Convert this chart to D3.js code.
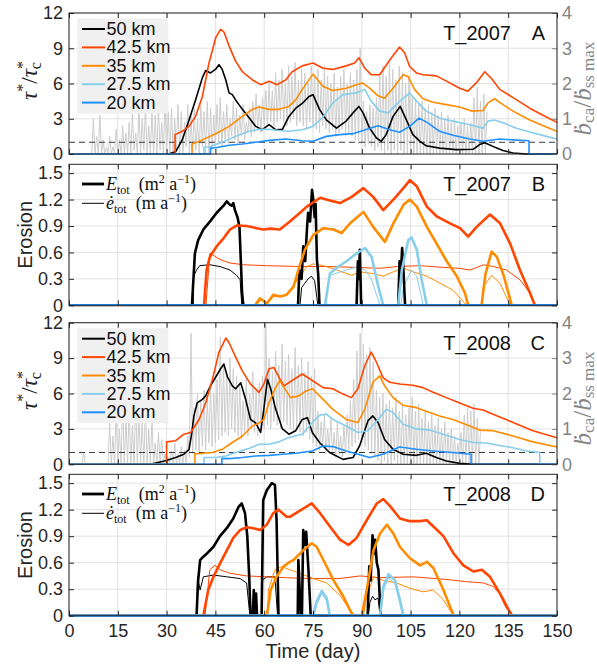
<!DOCTYPE html>
<html>
<head>
<meta charset="utf-8">
<script src="https://cdn.jsdelivr.net/npm/d3@7"></script>
<style>
body { margin: 0; background: #fff; }
</style>
</head>
<body>
<div id="box"></div>
<script>
// ---- data ----
const distances = ['50 km', '42.5 km', '35 km', '27.5 km', '20 km'];
const colors = ['#000000', '#FF4500', '#FF8C00', '#87CEEB', '#1E90FF'];
const dayTicks = [0, 15, 30, 45, 60, 75, 90, 105, 120, 135, 150];
const tauTicks = [0, 3, 6, 9, 12];
const ratioTicks = [0, 1, 2, 3, 4];
const eroTicks = [0, 0.3, 0.6, 0.9, 1.2, 1.5];
const threshold = [1];

// panel A, T_2007, tau*/tau*c  [day, value]
const a50 = [[0,0],[30,0],[31,0.05],[32.8,0.2],[34.8,1.2],[36.9,2.9],[38.9,4.6],[41,6.5],[42,7.1],[43.5,6.9],[45,7.2],[46.1,7.6],[47.1,7.2],[48.2,6.3],[49.2,5.2],[50.2,5.05],[51.2,4.6],[53.3,3.8],[55.3,3.1],[57.4,2.35],[59.4,2.07],[61.5,2.5],[63.5,2.07],[65.6,2.1],[67.6,3.2],[69.7,3.9],[71.7,4.3],[73.8,4.9],[75,5.05],[77,3.8],[79.1,2.9],[82.2,2.2],[85.2,2.8],[87.3,3.5],[89.1,4.05],[90.4,3.5],[92.4,2.2],[94.5,1.36],[96,1.08],[97.5,1.65],[99.6,3.2],[101.8,4.05],[103.7,2.9],[105.7,1.65],[107.8,1.1],[109.8,0.7],[113.9,0.5],[119,0.37],[124.2,0.4],[126.2,0.8],[127.8,0.95],[130.3,0.65],[133.4,0.3],[136.5,0.08],[140.6,0],[150,0]];
const a425 = [[0,0],[32.6,0],[32.6,1.65],[34.8,1.93],[36.9,2.35],[38.9,3.2],[41,4.9],[43,7.7],[45.1,9.9],[46.6,10.6],[47.6,10.4],[49.2,9.2],[51.2,7.9],[53.3,7.0],[56.4,6.3],[58.9,5.9],[61.5,6.2],[64,5.9],[66.6,6.3],[68.6,7.0],[71.7,7.5],[75,7.75],[78.1,7.3],[81.1,7.2],[85.2,7.5],[87.8,7.75],[89.1,8.2],[90.9,7.3],[92.9,6.75],[95.5,6.75],[98.6,8.0],[101.6,9.1],[103.2,8.6],[104.7,7.45],[106.8,6.9],[108.8,6.75],[112.9,6.65],[116,6.2],[120.1,5.6],[122.6,5.35],[125.2,6.05],[127.8,7.0],[129.8,6.45],[132.4,5.5],[136.5,4.8],[141.6,3.9],[146.7,3.15],[150,2.7]];
const a35 = [[0,0],[37.8,0],[37.8,0.85],[41,1.2],[45.1,1.73],[49.2,2.35],[53.3,3.2],[56.4,3.8],[58.4,4.0],[61.5,3.8],[64.5,3.8],[67.6,4.05],[69.7,4.6],[71.7,5.5],[75,6.8],[78.1,5.75],[81.1,5.4],[85.2,5.6],[88.3,5.9],[90.2,6.05],[92.4,5.6],[95,4.95],[97,4.75],[99.6,5.6],[102.7,6.75],[104.2,6.6],[106.2,5.5],[108.8,4.7],[111.9,4.4],[116,4.2],[120.1,4.0],[123.7,3.65],[127.3,3.7],[128.8,4.35],[130.8,4.7],[133.4,4.2],[136.5,3.65],[141.6,2.9],[146.7,2.3],[150,1.93]];
const a275 = [[0,0],[41.5,0],[41.5,0.57],[43,0.6],[45.1,0.8],[48.2,1.13],[51.2,1.5],[55.3,1.93],[58.4,2.1],[61.5,2.1],[64.5,2.0],[67.6,1.93],[71.7,2.07],[75,2.35],[78.1,3.15],[81.1,4.35],[84.2,5.05],[88.3,5.2],[90.9,5.5],[92.9,4.5],[95.5,3.65],[98.1,3.5],[101.1,4.35],[104.7,5.2],[106.8,4.5],[109.8,3.65],[113.9,3.05],[118,2.8],[122.1,2.55],[127.3,2.2],[128.8,2.8],[130.8,2.9],[133.4,2.65],[137.5,2.2],[142.6,1.8],[146.7,1.5],[150,1.28]];
const a20 = [[0,0],[43.5,0],[43.5,0.5],[45.1,0.53],[49.2,0.74],[53.3,0.85],[57.4,1.0],[61.5,1.16],[66.6,1.28],[71.7,1.13],[75,1.08],[79.1,1.5],[83.2,1.65],[87.3,1.73],[90.4,2.0],[95,2.4],[98.6,2.07],[101.6,1.85],[104.7,2.35],[107.6,3.05],[110.3,2.65],[113.9,1.93],[118,1.6],[123.2,1.28],[127.3,1.08],[132.4,1.28],[136.5,1.2],[141.4,1.13],[141.4,0],[150,0]];

// gray ratio series (right axis), daily low / peak, starting day 7
const grayStartA = 7;
const grayPeakA = [1.0,0.5,1.1,0.4,0.2,0.5,0.2,0.7,0.4,0.8,0.6,
  0.9,1.2,0.6,1.3,1.0,1.4,0.8,1.2,1.1,1.3,0.9,1.5,1.2,
  1.3,1.0,1.4,1.2,0.9,1.4,1.1,1.3,1.0,1.4,1.2,1.5,1.3,1.1,1.4,
  1.6,1.2,1.4,1.0,1.5,1.3,1.1,1.4,0.9,1.3,1.5,1.7,1.4,1.6,1.8,
  2.0,1.8,2.3,2.1,2.4,2.0,2.5,2.2,2.6,2.1,2.4,2.3,2.0,2.5,2.2,
  2.4,2.1,2.5,2.2,2.0,2.3,1.9,2.2,2.4,2.0,2.3,2.1,2.4,
  3.0,
  1.5,1.2,1.4,1.3,1.6,
  2.3,2.5,2.2,2.6,2.4,2.1,2.5,2.3,2.0,2.2,
  1.6,1.5,1.4,1.5,1.3,1.4,1.2,1.3,1.1,1.2,1.0,1.1,0.9,1.0,
  0.8,0.9,1.0,0.8,0.9,
  1.6,1.9,1.5,1.7,1.2];
const grayLowA = [0,0,0,0,0,0,0,0,0,0,0,
  0,0,0.1,0,0,0.1,0,0,0,0,0.1,0,0,
  0,0,0.1,0,0,0.2,0,0,0.1,0,0.2,0,0,0.1,0.2,
  0.3,0.2,0.4,0.3,0.5,0.4,0.3,0.5,0.4,0.6,0.5,0.6,0.7,0.6,0.8,
  0.8,0.9,0.8,0.9,1.0,0.9,0.8,0.9,1.0,0.8,0.9,0.8,0.7,0.9,0.8,
  0.7,0.6,0.8,0.7,0.6,0.7,0.5,0.6,0.7,0.5,0.6,0.5,0.4,
  0.3,
  0.3,0.2,0.3,0.2,0.1,
  0.2,0.1,0,0.1,0,0.1,0,0.1,0,0,
  0,0,0,0,0,0,0,0,0,0,0,0,0,0,
  0,0,0,0,0,
  0,0,0,0,0];

// panel B, T_2007, erosion: E_tot (thick) and e_tot (thin)
const bE50 = [[0,0],[37.8,0],[38.0,0.14],[38.7,0.59],[39.7,0.74],[41.3,0.86],[43.3,0.95],[45.4,1.05],[47.5,1.13],[48.5,1.18],[49.5,1.14],[50,1.13],[50.5,1.16],[51,1.08],[51.8,1.0],[52.4,0.89],[52.8,0.52],[53.2,0.14],[53.6,0],[70.4,0],[70.8,0.4],[71.5,0.3],[72,0.67],[72.6,0.5],[73.2,0.9],[73.5,1.05],[74.1,0.95],[74.7,1.31],[75.1,1.2],[75.5,1.0],[75.8,1.15],[76.2,0.52],[76.6,0.35],[77,0],[88.4,0],[88.8,0.5],[89.1,0.3],[89.4,0.63],[89.8,0],[101.2,0],[101.6,0.5],[102,0.35],[102.4,0.65],[102.8,0.4],[103.3,0],[150,0]];
const be50 = [[0,0],[38.2,0],[38.3,0.33],[39.2,0.4],[40.2,0.45],[43.3,0.46],[46.4,0.44],[49.5,0.4],[51.5,0.34],[52.6,0.29],[53.1,0],[71,0],[71.5,0.2],[72.5,0.25],[73.5,0.3],[74.5,0.33],[75.5,0.28],[76.5,0],[150,0]];
const bE425 = [[0,0],[41.5,0],[42.3,0.4],[43.3,0.55],[45.4,0.67],[47.5,0.76],[49.5,0.86],[51.5,0.905],[54.6,0.9],[57.7,0.875],[59.7,0.86],[61.8,0.87],[64.8,0.86],[67.9,0.95],[71,1.05],[73.1,1.12],[77.2,1.22],[80.2,1.19],[83.3,1.16],[86.9,1.23],[90.5,1.33],[93.5,1.23],[96.6,1.08],[99.7,1.2],[102.8,1.33],[104.8,1.42],[106.9,1.35],[110,1.12],[113,1.01],[117.1,0.93],[120.2,0.875],[122.7,0.78],[125.3,0.89],[129.4,1.03],[132.5,0.93],[135.6,0.7],[138.6,0.4],[141.7,0.14],[143.2,0],[150,0]];
const be425 = [[0,0],[42.1,0],[43.3,0.59],[44.3,0.57],[46.4,0.52],[49.5,0.48],[53.6,0.46],[60.7,0.45],[71,0.44],[80,0.44],[88,0.43],[95.6,0.42],[101,0.44],[107.9,0.45],[115,0.43],[120,0.42],[123.3,0.4],[127.4,0.46],[130.5,0.44],[134.5,0.4],[138.6,0.29],[141.7,0.14],[143.2,0],[150,0]];
const bE35 = [[0,0],[57.2,0],[58.7,0.08],[60.8,0.02],[62.8,0.12],[64.9,0.1],[66.9,0.12],[69,0.21],[70.5,0.4],[72.5,0.63],[75.1,0.8],[78.2,0.875],[81.3,0.86],[83.8,0.82],[86.4,0.93],[90.5,1.06],[93.5,0.89],[97.1,0.72],[99.7,0.93],[102.8,1.14],[104.8,1.2],[106.9,1.12],[110,0.89],[113,0.7],[116.1,0.5],[119.2,0.33],[121.7,0.14],[122.7,0],[126.8,0],[128,0.35],[129.9,0.61],[131.5,0.55],[133.5,0.35],[136.1,0],[150,0]];
const be35 = [[0,0],[57.5,0],[59,0.06],[61,0.03],[63,0.1],[66,0.1],[68.5,0.2],[71,0.33],[73.1,0.44],[75.1,0.47],[78.2,0.45],[82.3,0.4],[86.9,0.34],[89.4,0.38],[93.5,0.36],[96.6,0.33],[99.7,0.38],[102.8,0.42],[105.8,0.38],[110,0.33],[114.1,0.25],[118.1,0.17],[122.2,0],[127,0],[127.4,0.21],[129.9,0.34],[132.5,0.25],[135.6,0],[150,0]];
const bE275 = [[0,0],[78.7,0],[80.2,0.36],[82.8,0.44],[85.3,0.5],[88.4,0.59],[91,0.65],[93,0.55],[95.1,0.21],[96.6,0],[101.2,0],[102.3,0.4],[104.3,0.74],[105.3,0.77],[106.9,0.63],[108.4,0.29],[110,0],[150,0]];
const be275 = [[0,0],[78.7,0],[80.2,0.34],[85.3,0.4],[88.9,0.44],[91,0.4],[93,0.29],[95.6,0],[102,0],[102.8,0.21],[105.3,0.4],[106.9,0.33],[108.9,0],[150,0]];
const bE20 = [[0,0],[150,0]];
const be20 = [[0,0],[150,0]];

// panel C, T_2008, tau*/tau*c
const c50 = [[0,0],[25.6,0.05],[29.7,0.3],[32.8,0.57],[35.3,0.85],[36.9,1.27],[37.6,2.4],[38.4,4.1],[39.4,5.2],[41,5.5],[42,5.8],[43.5,6.65],[45.1,7.4],[46.6,8.1],[47.6,8.5],[48.7,7.4],[50.2,6.65],[51.2,6.4],[52.8,6.9],[54.3,5.5],[55.8,3.8],[57.4,3.5],[58.9,2.7],[59.9,4.7],[61,7.2],[62,6.4],[63.5,4.7],[65.6,3.0],[67.6,2.55],[69.7,2.85],[71.7,3.8],[73.3,3.95],[74.8,2.7],[77,1.85],[80.1,1.0],[84.2,0.42],[87.3,0.57],[89.3,1.55],[91.9,3.7],[93.4,4.1],[95,3.55],[97,2.1],[99.6,1.27],[102.7,0.85],[106.8,0.76],[109.8,0.93],[112.9,0.57],[116,0.28],[120.1,0.08],[124.2,0],[150,0]];
const c425 = [[0,0],[30,0],[30,1.9],[32.8,2.0],[35.3,2.55],[37.4,2.7],[40,3.8],[42,5.2],[44.1,7.2],[46.1,9.5],[48.2,10.7],[49.2,10.3],[51.2,9.1],[53.3,7.9],[55.8,6.8],[58.4,6.1],[59.9,6.8],[61.5,8.1],[63,8.2],[64.5,7.4],[66.1,6.65],[68.6,7.1],[71.7,7.65],[74.8,7.1],[78.1,6.5],[81.1,6.4],[84.2,5.95],[86.8,5.65],[88.8,6.4],[90.9,8.35],[92.9,9.5],[94.5,8.65],[96.5,7.35],[98.6,6.95],[101.6,6.8],[105.7,6.7],[108.8,6.5],[111.9,6.1],[116,5.65],[120.1,5.2],[124.2,4.75],[127.3,4.6],[130.3,4.25],[136.5,3.55],[142.6,2.85],[150,2.25]];
const c35 = [[0,0],[38.7,0],[38.7,0.9],[41,0.93],[44.1,1.0],[47.1,1.27],[50.2,1.85],[53.3,2.4],[56.4,3.25],[58.4,3.5],[59.9,3.8],[61.5,5.25],[63.5,6.5],[64.8,7.1],[66.1,6.5],[68.1,5.65],[70.7,5.8],[72.7,6.2],[74.8,6.4],[78.1,5.5],[81.1,4.65],[85.2,3.8],[88.8,3.55],[90.9,4.65],[93.4,6.95],[95.5,7.5],[97,6.65],[99.6,5.65],[102.7,5.0],[106.8,4.8],[110.9,4.4],[113.9,4.1],[118,3.8],[123.2,3.25],[126.2,2.9],[130.3,2.85],[136.5,2.4],[142.6,1.9],[150,1.47]];
const c275 = [[0,0],[41.5,0],[41.5,0.57],[45.1,0.57],[48.2,0.7],[51.2,1.0],[55.3,1.33],[58.4,1.7],[61.5,1.7],[64.5,1.9],[67.6,2.27],[71.7,2.55],[74.8,3.55],[77,4.15],[79.1,4.25],[81.1,3.8],[85.2,3.25],[88.8,2.7],[91.9,2.85],[95,3.8],[97.5,4.65],[99.6,4.4],[102.7,3.4],[106.8,3.0],[110.9,2.9],[115,2.55],[120.1,2.1],[124.2,1.85],[128.2,1.8],[132.4,1.6],[136.5,1.4],[140.6,1.13],[144.7,1.0],[144.7,0],[150,0]];
const c20 = [[0,0],[47,0],[47,0.5],[49.2,0.48],[53.3,0.57],[57.4,0.7],[61.5,0.76],[65.6,0.85],[69.7,0.93],[74.8,1.13],[78.1,1.55],[81.1,1.5],[85.2,1.13],[88.8,0.85],[92.4,0.57],[96.5,0.85],[101.6,1.47],[106.8,1.27],[111.9,1.13],[118,1.0],[123.6,0.85],[123.6,0],[150,0]];

const grayStartC = 4;
const grayPeakC = [0.35,0,0,0,0,0,0,0,
  1.2,0.8,1.5,1.0,1.8,1.3,1.6,1.1,1.9,1.4,1.2,1.7,1.0,1.3,0.6,0.9,0.7,
  0.3,0.2,0.4,0.6,0.3,0.5,0.4,0.8,
  3.7,
  1.6,2.0,1.8,2.1,1.9,2.2,2.0,2.4,
  3.6,
  2.8,2.6,3.0,2.7,2.5,
  2.2,1.8,2.4,2.0,2.6,2.1,2.3,2.5,
  4.0,
  3.0,2.6,3.2,2.8,3.4,2.9,3.1,2.7,3.3,2.8,3.0,2.6,2.9,2.5,2.7,
  1.5,1.2,1.4,1.0,1.3,0.9,1.2,0.8,1.1,1.4,1.8,2.4,
  3.2,3.7,3.4,3.1,3.3,2.9,
  2.1,1.9,2.0,1.7,1.8,1.6,1.9,1.5,1.7,1.4,1.6,
  1.9,1.5,1.7,1.3,1.5,1.2,1.4,1.1,1.3,1.0,1.2,0.9,1.0,0.8,
  0.6,0.9,1.4,1.6,1.5,1.7,1.3,1.0];
const grayLowC = [0,0,0,0,0,0,0,0,0,0,0,0,0,0,0,0,0,0,0,0,0,0,0,0,0,0,0,0,0,0,0,0,0,
  0.2,0.3,0.4,0.3,0.5,0.4,0.6,0.5,0.6,
  0.7,0.8,0.9,0.8,1.0,0.9,0.8,0.7,0.9,0.8,1.0,0.9,0.8,0.9,1.0,
  1.1,1.0,1.2,1.1,1.0,1.2,1.1,1.0,0.9,1.0,0.9,0.8,0.9,0.7,0.6,
  0.5,0.4,0.5,0.3,0.4,0.3,0.2,0.3,0.2,0.3,0.4,0.5,
  0.6,0.7,0.6,0.5,0.4,0.3,
  0.2,0.1,0,0.1,0,0,0.1,0,0,0,0,
  0,0,0,0,0,0,0,0,0,0,0,0,0,0,
  0,0,0,0,0,0,0,0];

// panel D, T_2008, erosion
const dE50 = [[0,0],[39.2,0],[39.7,0.4],[40.3,0.63],[40.8,0.65],[42.3,0.7],[44.4,0.78],[46.4,0.9],[48.5,0.99],[50.5,1.1],[52.1,1.23],[53.1,1.27],[54.1,1.16],[54.8,0.9],[55.4,0.44],[55.8,0],[56.5,0],[56.8,0.29],[57.2,0],[57.5,0.25],[57.8,0],[59.2,0],[59.7,1.31],[60.8,1.42],[62.3,1.5],[63.3,1.48],[63.8,1.08],[64.4,0],[70.3,0],[70.5,0.63],[70.9,0.3],[71.2,0],[71.6,0],[72,0.97],[72.4,0.8],[72.9,0.95],[73.6,0.52],[74.3,0],[91.8,0],[92.3,0.56],[92.7,0.4],[93.3,0.91],[93.7,0.7],[94.1,0.86],[94.6,0.6],[95.1,0.52],[95.8,0],[150,0]];
const de50 = [[0,0],[39.3,0],[39.5,0.44],[40.3,0.29],[41.3,0.44],[44.4,0.46],[48.5,0.44],[52.6,0.42],[54.6,0.37],[55.6,0],[59.2,0],[59.4,0.4],[60.8,0.44],[63.3,0.44],[64.1,0],[92,0],[92.5,0.15],[93.3,0.22],[94,0.18],[95,0.2],[95.6,0],[150,0]];
const dE425 = [[0,0],[41.3,0],[42.8,0.29],[44.4,0.44],[46.4,0.59],[48.5,0.74],[50.5,0.88],[52.6,0.97],[54.6,1.0],[56.7,0.99],[58.7,0.97],[60.8,1.03],[62.8,1.16],[64.4,1.2],[66.9,1.12],[68,1.12],[71,1.19],[74.6,1.27],[77.2,1.16],[80.2,1.01],[83.3,0.86],[85.9,0.8],[88.4,0.88],[91.5,1.08],[94.6,1.27],[96.6,1.32],[98.7,1.24],[101.7,1.1],[104.8,1.07],[107.9,1.07],[110,1.08],[112,1.01],[115.1,0.9],[118.1,0.71],[121.2,0.57],[124.3,0.5],[126.9,0.52],[129.4,0.44],[132.5,0.25],[134.5,0.1],[136.3,0],[150,0]];
const de425 = [[0,0],[41.8,0],[43.3,0.52],[44.9,0.57],[46.4,0.52],[49.5,0.48],[54.6,0.45],[60.8,0.44],[66.9,0.43],[75,0.42],[83,0.42],[89.5,0.45],[95.6,0.43],[105.8,0.44],[116.1,0.41],[122.2,0.385],[127.4,0.37],[130.4,0.33],[133.5,0.2],[136.3,0],[150,0]];
const dE35 = [[0,0],[60.8,0],[62,0.29],[63.8,0.44],[65.9,0.555],[67.9,0.61],[69,0.63],[72,0.74],[74.6,0.82],[76.1,0.78],[78.2,0.63],[81.3,0.4],[84.3,0.22],[86.4,0.06],[87.4,0],[90,0],[91.5,0.29],[93.6,0.74],[95.6,0.93],[97.7,1.03],[99.7,0.93],[101.7,0.78],[104.8,0.65],[107.9,0.57],[110,0.61],[112,0.54],[115.1,0.29],[117.6,0.06],[118.3,0],[150,0]];
const de35 = [[0,0],[61,0],[61.3,0.29],[63.3,0.52],[65.4,0.555],[67.9,0.52],[71,0.48],[75.1,0.42],[79.2,0.37],[83.3,0.23],[86.4,0.06],[87.9,0],[90.5,0],[91.5,0.21],[93.6,0.44],[96.6,0.4],[100.7,0.37],[104.8,0.31],[108.9,0.27],[112,0.29],[115.1,0.18],[118.1,0],[150,0]];
const dE275 = [[0,0],[75.1,0],[76.1,0.16],[77.7,0.28],[79.2,0.2],[80.2,0],[95.6,0],[96.6,0.33],[98.2,0.47],[100.2,0.4],[101.7,0.18],[102.8,0],[150,0]];
const de275 = [[0,0],[75.3,0],[76.3,0.14],[77.7,0.25],[79.1,0.17],[80,0],[95.8,0],[96.8,0.3],[98.2,0.43],[100.2,0.36],[101.6,0.15],[102.6,0],[150,0]];
const dE20 = [[0,0],[150,0]];
const de20 = [[0,0],[150,0]];

// ---- layout ----
const W = 597, H = 671;
const textCol = '#262626';
const rightCol = '#858585';

const svg = d3.select('#box').append('svg')
  .attr('width', W).attr('height', H)
  .style('font-family', '"Liberation Sans", Arial, Helvetica, sans-serif');

const x = d3.scaleLinear().domain([0, 150]).range([69, 557]);

function grayPoints(start, peak, low) {
  const pts = [];
  peak.forEach((v, i) => {
    pts.push([start + i, low[i]]);
    pts.push([start + i + 0.5, v]);
  });
  return pts;
}

const panels = [
  { id: 'A', top: 13, h: 141, kind: 'tau', year: 'T_2007', lines: [a50, a425, a35, a275, a20],
    gray: grayPoints(grayStartA, grayPeakA, grayLowA) },
  { id: 'B', top: 164.3, h: 141, kind: 'ero', year: 'T_2007',
    thick: [bE50, bE425, bE35, bE275, bE20], thin: [be50, be425, be35, be275, be20] },
  { id: 'C', top: 322.7, h: 141.6, kind: 'tau', year: 'T_2008', lines: [c50, c425, c35, c275, c20],
    gray: grayPoints(grayStartC, grayPeakC, grayLowC) },
  { id: 'D', top: 474.3, h: 141.4, kind: 'ero', year: 'T_2008',
    thick: [dE50, dE425, dE35, dE275, dE20], thin: [de50, de425, de35, de275, de20], last: true }
];

function styleAxis(sel, col) {
  sel.select('.domain').remove();
  sel.selectAll('.tick line').attr('stroke', col);
  sel.selectAll('.tick text').attr('fill', col).style('font-size', '18px')
    .style('font-family', '"Liberation Sans", Arial, sans-serif');
}

panels.forEach(p => {
  const bottom = p.top + p.h;
  const isTau = p.kind === 'tau';
  const y = d3.scaleLinear().domain(isTau ? [0, 12] : [0, 1.6]).range([bottom, p.top]);
  const yR = d3.scaleLinear().domain([0, 4]).range([bottom, p.top]);
  const yt = isTau ? tauTicks : eroTicks;
  const g = svg.append('g').attr('class', 'panel' + p.id);

  // grid
  g.selectAll('.vgrid').data(dayTicks).join('line').attr('class', 'vgrid')
    .attr('x1', d => x(d)).attr('x2', d => x(d))
    .attr('y1', p.top).attr('y2', bottom)
    .attr('stroke', '#e2e2e2').attr('stroke-width', 1);
  g.selectAll('.hgrid').data(yt).join('line').attr('class', 'hgrid')
    .attr('x1', x(0)).attr('x2', x(150))
    .attr('y1', d => y(d)).attr('y2', d => y(d))
    .attr('stroke', '#e2e2e2').attr('stroke-width', 1);

  // clip
  svg.append('clipPath').attr('id', 'clip' + p.id)
    .append('rect').attr('x', x(0)).attr('y', p.top - 1)
    .attr('width', x(150) - x(0)).attr('height', p.h + 2);
  const plot = g.append('g').attr('clip-path', `url(#clip${p.id})`);

  const line = d3.line().x(d => x(d[0])).y(d => y(d[1]));

  if (isTau) {
    const lineR = d3.line().x(d => x(d[0])).y(d => yR(d[1]));
    plot.append('path').datum(p.gray)
      .attr('d', lineR).attr('fill', 'none')
      .attr('stroke', '#cdcdcd').attr('stroke-width', 1);
    plot.selectAll('.thr').data(threshold).join('line').attr('class', 'thr')
      .attr('x1', x(0)).attr('x2', x(150))
      .attr('y1', d => y(d)).attr('y2', d => y(d))
      .attr('stroke', '#3a3a3a').attr('stroke-width', 1.1)
      .attr('stroke-dasharray', '6,4');
    plot.selectAll('.series').data(p.lines).join('path').attr('class', 'series')
      .attr('d', line).attr('fill', 'none')
      .attr('stroke', (d, i) => colors[i]).attr('stroke-width', 1.6)
      .attr('stroke-linejoin', 'round');
  } else {
    plot.selectAll('.thin').data(p.thin).join('path').attr('class', 'thin')
      .attr('d', line).attr('fill', 'none')
      .attr('stroke', (d, i) => colors[i]).attr('stroke-width', 1)
      .attr('stroke-linejoin', 'round');
    plot.selectAll('.thick').data(p.thick).join('path').attr('class', 'thick')
      .attr('d', line).attr('fill', 'none')
      .attr('stroke', (d, i) => colors[i]).attr('stroke-width', 2.6)
      .attr('stroke-linejoin', 'round');
  }

  // axes (ticks inward)
  const left = g.append('g').attr('transform', `translate(${x(0)},0)`)
    .call(d3.axisLeft(y).tickValues(yt).tickSize(-5).tickSizeOuter(0).tickPadding(6)
      .tickFormat(isTau ? d3.format('d') : (d => d === 0 ? '0' : d.toFixed(1))));
  styleAxis(left, textCol);

  const right = g.append('g').attr('transform', `translate(${x(150)},0)`);
  if (isTau) {
    right.call(d3.axisRight(yR).tickValues(ratioTicks).tickSize(-5).tickSizeOuter(0)
      .tickPadding(5).tickFormat(d3.format('d')));
    styleAxis(right, rightCol);
  } else {
    right.call(d3.axisRight(y).tickValues(yt).tickSize(-5).tickSizeOuter(0).tickFormat(''));
    styleAxis(right, textCol);
  }

  const topAx = g.append('g').attr('transform', `translate(0,${p.top})`)
    .call(d3.axisTop(x).tickValues(dayTicks).tickSize(-5).tickSizeOuter(0).tickFormat(''));
  styleAxis(topAx, textCol);

  const botAx = g.append('g').attr('transform', `translate(0,${bottom})`)
    .call(d3.axisBottom(x).tickValues(dayTicks).tickSize(-5).tickSizeOuter(0).tickPadding(9)
      .tickFormat(p.last ? d3.format('d') : ''));
  styleAxis(botAx, textCol);

  // frame
  g.append('rect').attr('x', x(0)).attr('y', p.top)
    .attr('width', x(150) - x(0)).attr('height', p.h)
    .attr('fill', 'none').attr('stroke', textCol).attr('stroke-width', 1);

  // panel label
  g.append('text').attr('x', 511).attr('y', p.top + 27).attr('text-anchor', 'end')
    .attr('fill', '#111').style('font-size', '20px').text(p.year);
  g.append('text').attr('x', 545).attr('y', p.top + 27).attr('text-anchor', 'end')
    .attr('fill', '#111').style('font-size', '20px').text(p.id);

  if (isTau) {
    // legend
    const lg = g.append('g');
    lg.append('rect').attr('x', 77.3).attr('y', p.top + 5.5)
      .attr('width', 91).attr('height', 95).attr('fill', '#f0f0f0');
    const rows = lg.selectAll('.lrow').data(distances).join('g').attr('class', 'lrow')
      .attr('transform', (d, i) => `translate(0,${p.top + 16 + i * 18.4})`);
    rows.append('line').attr('x1', 82).attr('x2', 105)
      .attr('stroke', (d, i) => colors[i]).attr('stroke-width', 2);
    rows.append('text').attr('x', 106.5).attr('y', 6).attr('fill', '#111')
      .style('font-size', '18px').text(d => d);

    // left label tau*/tau*c
    const tl = g.append('text')
      .attr('transform', `translate(37,${p.top + p.h / 2 - 3}) rotate(-90)`)
      .attr('text-anchor', 'middle').attr('fill', textCol)
      .style('font-family', '"Liberation Serif", "DejaVu Serif", serif').style('font-size', '23px');
    tl.append('tspan').style('font-style', 'italic').text('τ');
    tl.append('tspan').attr('dy', -9).style('font-size', '16px').text('*');
    tl.append('tspan').attr('dy', 9).text('/');
    tl.append('tspan').style('font-style', 'italic').text('τ');
    tl.append('tspan').attr('dy', 4).style('font-size', '16px').text('c');
    tl.append('tspan').attr('dx', -7).attr('dy', -13).style('font-size', '16px').text('*');

    // right label
    const rl = g.append('text')
      .attr('transform', `translate(591,${p.top + p.h / 2 + 5}) rotate(-90)`)
      .attr('text-anchor', 'middle').attr('fill', rightCol)
      .style('font-family', '"Liberation Serif", "DejaVu Serif", serif').style('font-size', '25px');
    rl.append('tspan').style('font-style', 'italic').text('ḃ');
    rl.append('tspan').attr('dy', 3).style('font-size', '17px').text('ca');
    rl.append('tspan').attr('dy', -3).text('/');
    rl.append('tspan').style('font-style', 'italic').text('ḃ');
    rl.append('tspan').attr('dy', 3).style('font-size', '17px').text('ss max');
  } else {
    // legend (no box)
    const serif = '"Liberation Serif", "DejaVu Serif", serif';
    g.append('line').attr('x1', 82).attr('x2', 104)
      .attr('y1', p.top + 19.7).attr('y2', p.top + 19.7)
      .attr('stroke', '#000').attr('stroke-width', 2.8);
    g.append('line').attr('x1', 82).attr('x2', 104)
      .attr('y1', p.top + 39).attr('y2', p.top + 39)
      .attr('stroke', '#000').attr('stroke-width', 1);
    const t1 = g.append('text').attr('x', 106).attr('y', p.top + 25.7).attr('fill', '#111')
      .style('font-family', serif).style('font-size', '18px');
    t1.append('tspan').style('font-style', 'italic').text('E');
    t1.append('tspan').attr('dy', 4).style('font-size', '12px').text('tot');
    t1.append('tspan').attr('dy', -4).text('\u2002(m');
    t1.append('tspan').attr('dy', -7).style('font-size', '12px').text('2');
    t1.append('tspan').attr('dy', 7).text(' a');
    t1.append('tspan').attr('dy', -7).style('font-size', '12px').text('\u22121');
    t1.append('tspan').attr('dy', 7).text(')');
    const t2 = g.append('text').attr('x', 106).attr('y', p.top + 45).attr('fill', '#111')
      .style('font-family', serif).style('font-size', '18px');
    t2.append('tspan').style('font-style', 'italic').text('ė');
    t2.append('tspan').attr('dy', 4).style('font-size', '12px').text('tot');
    t2.append('tspan').attr('dy', -4).text('\u2002(m a');
    t2.append('tspan').attr('dy', -7).style('font-size', '12px').text('\u22121');
    t2.append('tspan').attr('dy', 7).text(')');

    g.append('text')
      .attr('transform', `translate(32,${p.top + p.h / 2}) rotate(-90)`)
      .attr('text-anchor', 'middle').attr('fill', textCol)
      .style('font-size', '20px').text('Erosion');
  }
});

svg.append('text').attr('x', 313).attr('y', 658).attr('text-anchor', 'middle')
  .attr('fill', textCol).style('font-size', '20px').text('Time (day)');
</script>
</body>
</html>
